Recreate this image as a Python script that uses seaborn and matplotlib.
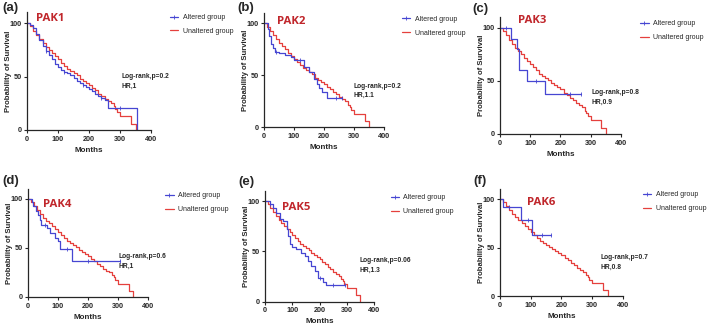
import numpy as np
import pandas as pd
import seaborn as sns
import matplotlib.pyplot as plt
from matplotlib.lines import Line2D

# unaltered group (nearly the same in every panel)
unalt_t = [0, 10, 20, 30, 40, 50, 60, 70, 80, 90, 100, 110, 120, 130, 140, 150, 160, 170, 180,
           190, 200, 210, 220, 230, 240, 250, 260, 270, 280, 285, 290, 300, 335, 350]
unalt_s = [100, 97, 93, 89, 85, 81, 78, 75, 72, 69, 66, 63, 60, 57, 55, 53, 51, 48, 46,
           44, 42, 39, 37, 34, 32, 29, 27, 25, 22, 20, 17, 13, 6, 0]

# altered groups
pak1_t = [0, 10, 20, 30, 40, 50, 60, 70, 80, 90, 100, 110, 120, 130, 140, 150, 160, 170, 180,
          190, 200, 210, 220, 230, 240, 250, 262, 355]
pak1_s = [100, 98, 95, 90, 84, 79, 74, 70, 66, 62, 59, 56, 54, 53, 51, 49, 46, 44, 42,
          40, 38, 36, 34, 32, 30, 28, 21, 0]
pak1_c = [60, 120, 180, 240, 300]

pak2_t = [0, 12, 18, 24, 30, 36, 50, 70, 90, 100, 134, 150, 165, 176, 182, 193, 210, 259]
pak2_s = [100, 95, 88, 80, 76, 73, 72, 70, 68, 65, 58, 53, 47, 42, 38, 34, 28, 28]
pak2_c = [40, 120, 240, 259]

pak3_t = [0, 36, 57, 62, 89, 148, 268]
pak3_s = [100, 90, 80, 60, 50, 37.5, 37.5]
pak3_c = [20, 120, 230, 268]

pak4_t = [0, 12, 17, 28, 34, 40, 44, 62, 74, 91, 100, 105, 108, 145, 308]
pak4_s = [100, 97, 93, 88, 84, 79, 73, 70, 65, 60, 57, 54, 49, 37, 37]
pak4_c = [55, 130, 200, 308]

pak5_t = [0, 20, 30, 42, 55, 67, 79, 85, 91, 99, 115, 133, 145, 158, 170, 182, 194, 212, 224, 293]
pak5_s = [100, 97, 93, 88, 82, 80, 72, 65, 57, 54, 52, 48, 45, 40, 35, 30, 23, 19, 16, 16]
pak5_c = [20, 203, 250, 293]

pak6_t = [0, 9, 67, 104, 167]
pak6_s = [100, 91.4, 78, 63, 63]
pak6_c = [30, 90, 135, 167]

labels = ['(a)', '(b)', '(c)', '(d)', '(e)', '(f)']
genes = ['PAK1', 'PAK2', 'PAK3', 'PAK4', 'PAK5', 'PAK6']
pvals = ['0.2', '0.2', '0.8', '0.6', '0.06', '0.7']
hrs = ['1', '1.1', '0.9', '1', '1.3', '0.8']
altered = [(pak1_t, pak1_s, pak1_c), (pak2_t, pak2_s, pak2_c), (pak3_t, pak3_s, pak3_c),
           (pak4_t, pak4_s, pak4_c), (pak5_t, pak5_s, pak5_c), (pak6_t, pak6_s, pak6_c)]

sns.set_style('ticks')
plt.rcParams['font.family'] = ['Liberation Sans', 'DejaVu Sans']

blue = '#4646d2'
red = '#e5403d'
dark_red = '#c0262b'

fig = plt.figure(figsize=(7.09, 3.25), dpi=100)

# axes rectangles, label spots, gene name spots, annotation spots, legend spots
rects = [(0.0381, 0.600, 0.1749, 0.362), (0.3724, 0.6077, 0.1693, 0.352),
         (0.7052, 0.5877, 0.1707, 0.3588), (0.0395, 0.0862, 0.1693, 0.3317),
         (0.3738, 0.0723, 0.1537, 0.340), (0.7052, 0.0892, 0.1735, 0.3283)]
lab_xy = [(2, 2), (237, 2), (472, 3), (2, 175), (238, 176), (473, 175)]
gene_xy = [(30, 104), (43, 102), (59, 107), (50, 94), (62, 94), (87, 96)]
note_xy = [(305, 53), (298, 43), (302, 42), (301, 45), (345, 44), (326, 43)]
leg_xy = [(0.240, 0.957), (0.567, 0.951), (0.903, 0.938), (0.233, 0.409), (0.551, 0.403), (0.907, 0.412)]

for i in range(6):
    ax = fig.add_axes(rects[i])
    t, s, c = altered[i]
    unalt = pd.DataFrame({'Months': unalt_t, 'surv': unalt_s})
    alt = pd.DataFrame({'Months': t, 'surv': s})
    sns.lineplot(data=unalt, x='Months', y='surv', drawstyle='steps-post', color=red,
                 lw=0.9, estimator=None, sort=False, ax=ax)
    sns.lineplot(data=alt, x='Months', y='surv', drawstyle='steps-post', color=blue,
                 lw=0.9, estimator=None, sort=False, ax=ax)
    # censor ticks on altered curve
    idx = np.searchsorted(np.array(t), np.array(c), side='right') - 1
    ax.plot(c, np.array(s)[idx], ls='none', marker='|', ms=2.5, mew=0.6, color=blue)

    ax.set_xlim(0, 400)
    ax.set_ylim(0, 110)
    ax.set_xticks([0, 100, 200, 300, 400])
    ax.set_yticks([0, 50, 100])
    ax.tick_params(length=2.5, width=0.8, labelsize=5.2, pad=1.5)
    for lab in ax.get_xticklabels() + ax.get_yticklabels():
        lab.set_fontweight('bold')
    for sp in ['left', 'bottom']:
        ax.spines[sp].set_linewidth(0.9)
    sns.despine(ax=ax)
    ax.set_xlabel('Months', fontsize=5.8, fontweight='bold', labelpad=3)
    ax.set_ylabel('Probability of Survival', fontsize=5.6, fontweight='bold')
    w_px = rects[i][2] * 709
    ax.yaxis.set_label_coords(-15 / w_px, 0.5)

    ax.text(gene_xy[i][0], gene_xy[i][1], genes[i], color=dark_red, fontsize=8.2,
            fontweight='bold', family=['Open Sans', 'DejaVu Sans'], va='center', ha='left')
    ax.text(note_xy[i][0], note_xy[i][1], 'Log-rank,p=' + pvals[i] + '\nHR,' + hrs[i],
            fontsize=4.8, fontweight='bold', va='top', ha='left', linespacing=1.5)

    handles = [Line2D([], [], color=blue, lw=0.9, marker='|', ms=2.5, mew=0.6),
               Line2D([], [], color=red, lw=0.9)]
    ax.legend(handles, ['Altered group', 'Unaltered group'], loc='upper left',
              bbox_to_anchor=leg_xy[i], bbox_transform=fig.transFigure, frameon=False,
              fontsize=5.0, borderpad=0, borderaxespad=0,
              handlelength=1.2, handletextpad=0.6, labelspacing=1.0)

    fig.text(lab_xy[i][0] / 709, 1 - lab_xy[i][1] / 325, labels[i], fontsize=9.5,
             fontweight='bold', ha='left', va='top')

fig.savefig('out.png', dpi=100)
